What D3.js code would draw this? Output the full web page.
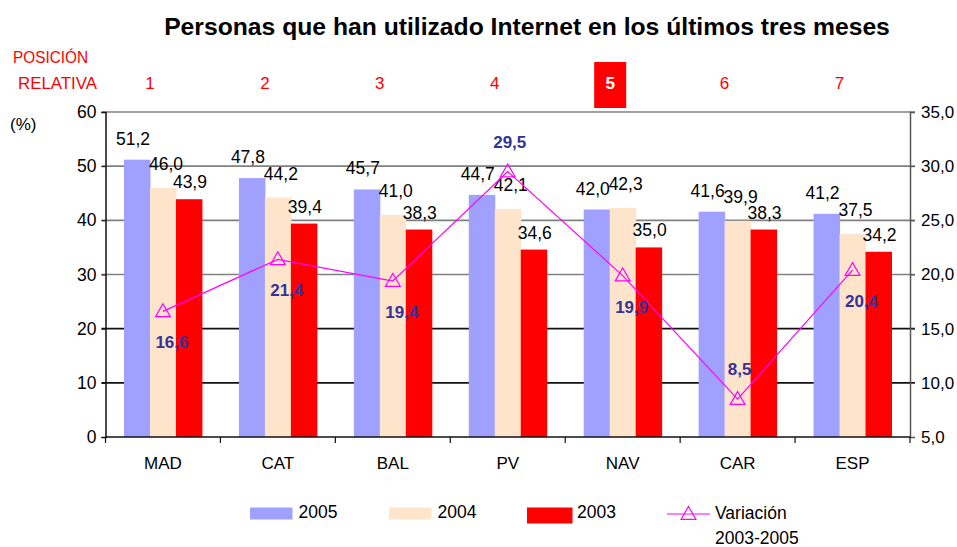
<!DOCTYPE html>
<html><head><meta charset="utf-8">
<script src="https://cdn.jsdelivr.net/npm/d3@7"></script>
<style>body{margin:0;background:#fff} svg{display:block} text{font-family:"Liberation Sans",Arial,sans-serif}</style>
</head><body><svg id="c" width="957" height="547"></svg>
<script>
const categories=["MAD","CAT","BAL","PV","NAV","CAR","ESP"];
const ranks=[1,2,3,4,5,6,7];
const highlightRank=5;
const seriesNames=["2005","2004","2003"];
const v2005=[51.2,47.8,45.7,44.7,42.0,41.6,41.2];
const v2004=[46.0,44.2,41.0,42.1,42.3,39.9,37.5];
const v2003=[43.9,39.4,38.3,34.6,35.0,38.3,34.2];
const variation=[16.6,21.4,19.4,29.5,19.9,8.5,20.4];
const leftTicks=[0,10,20,30,40,50,60];
const rightTicks=[5,10,15,20,25,30,35];
const titleText="Personas que han utilizado Internet en los últimos tres meses";
const lineName=["Variación","2003-2005"];

const colors={"2005":"#A0A0FF","2004":"#FFE4CC","2003":"#FF0000"};
const labelGap={"2005":15,"2004":18,"2003":11};
const labelShift={"2005":-4,"2004":3,"2003":1};
const seriesVals={"2005":v2005,"2004":v2004,"2003":v2003};
const fmt=d=>d.toFixed(1).replace(".",",");

const svg=d3.select("#c");
const L=105.5,R=910,T=112,B=437;
const x=d3.scaleBand().domain(categories).range([L,R]).paddingInner(0.322).paddingOuter(0.161);
const xs=d3.scaleBand().domain(seriesNames).range([0,x.bandwidth()]);
const y=d3.scaleLinear().domain([0,60]).range([B,T]);
const y2=d3.scaleLinear().domain([5,35]).range([B,T]);
const cx=c=>x(c)+x.bandwidth()/2;
const step=x.step();

// title
const title=svg.append("text").attr("x",527).attr("y",35).attr("text-anchor","middle")
 .attr("font-weight","bold").attr("font-size",22).text(titleText);
const tw=title.node().getComputedTextLength();
title.attr("font-size",22*726/tw);

// posicion relativa
svg.append("text").attr("x",13).attr("y",63).attr("fill","#FF0000").attr("font-size",16.5)
 .attr("textLength",75).attr("lengthAdjust","spacingAndGlyphs").text("POSICIÓN");
svg.append("text").attr("x",18).attr("y",89).attr("fill","#FF0000").attr("font-size",16.5)
 .attr("textLength",79).attr("lengthAdjust","spacingAndGlyphs").text("RELATIVA");
const rk=svg.append("g");
categories.forEach((c,i)=>{
  const px=cx(c)-13;
  if(ranks[i]===highlightRank){
    rk.append("rect").attr("x",px-15.5).attr("y",62).attr("width",32).attr("height",46).attr("fill","#FF0000");
    rk.append("text").attr("x",px+0.5).attr("y",89).attr("text-anchor","middle").attr("fill","#fff")
      .attr("font-weight","bold").attr("font-size",17).text(ranks[i]);
  } else {
    rk.append("text").attr("x",px).attr("y",89).attr("text-anchor","middle").attr("fill","#FF0000")
      .attr("font-size",17).text(ranks[i]);
  }
});

// gridlines
svg.append("g").selectAll("line").data(leftTicks.filter(d=>d>0)).join("line")
 .attr("x1",L-4).attr("x2",R+5).attr("y1",d=>y(d)).attr("y2",d=>y(d))
 .attr("stroke",d=>d>=30?"#808080":"#111").attr("stroke-width",1.6);

// left axis
const ga=svg.append("g").attr("transform",`translate(${L},0)`)
 .call(d3.axisLeft(y).tickValues(leftTicks).tickSize(4).tickPadding(5).tickFormat(d=>d));
ga.select(".domain").attr("stroke","#111").attr("stroke-width",1.5);
ga.selectAll(".tick line").attr("stroke","#111");
ga.selectAll("text").attr("font-size",17.5).attr("fill","#000").attr("font-family","Liberation Sans, Arial");
svg.append("text").attr("x",10).attr("y",130).attr("font-size",17).text("(%)");

// right axis
const gr=svg.append("g").attr("transform",`translate(${R},0)`)
 .call(d3.axisRight(y2).tickValues(rightTicks).tickSize(5).tickPadding(6).tickFormat(fmt));
gr.select(".domain").attr("stroke","#555").attr("stroke-width",1.5);
gr.selectAll(".tick line").attr("stroke","#555");
gr.selectAll("text").attr("font-size",17).attr("fill","#000").attr("font-family","Liberation Sans, Arial");

// bars
const gb=svg.append("g");
seriesNames.forEach(s=>{
  gb.selectAll(null).data(categories).join("rect")
   .attr("x",c=>x(c)+xs(s)).attr("width",xs.bandwidth()+0.5)
   .attr("y",(c,i)=>y(seriesVals[s][i])).attr("height",(c,i)=>B-y(seriesVals[s][i]))
   .attr("fill",colors[s]);
});
// bottom axis
const gx=svg.append("g").attr("transform",`translate(0,${B})`);
gx.append("line").attr("x1",L).attr("x2",R).attr("stroke","#111").attr("stroke-width",1.5);
gx.selectAll(null).data(d3.range(categories.length+1)).join("line")
 .attr("x1",i=>L+i*step).attr("x2",i=>L+i*step).attr("y1",0).attr("y2",6).attr("stroke","#111").attr("stroke-width",1.2);
gx.selectAll(null).data(categories).join("text").attr("x",c=>cx(c)).attr("y",32)
 .attr("text-anchor","middle").attr("font-size",17).text(c=>c);

// bar labels
seriesNames.forEach(s=>{
  gb.selectAll(null).data(categories).join("text")
   .attr("x",c=>x(c)+xs(s)+xs.bandwidth()/2+labelShift[s]).attr("y",(c,i)=>y(seriesVals[s][i])-labelGap[s])
   .attr("text-anchor","middle").attr("font-size",17.5).text((c,i)=>fmt(seriesVals[s][i]));
});

// variation line
const pts=categories.map((c,i)=>[cx(c),y2(variation[i])]);
svg.append("path").attr("d",d3.line()(pts)).attr("fill","none").attr("stroke","#FF00FF").attr("stroke-width",1.2);
const tri=d3.symbol().type(d3.symbolTriangle).size(95);
svg.append("g").selectAll("path").data(pts).join("path")
 .attr("transform",p=>`translate(${p[0]},${p[1]+1})`).attr("d",tri)
 .attr("fill","none").attr("stroke","#FF00FF").attr("stroke-width",1.2);
const vmax=d3.max(variation),vmin=d3.min(variation);
svg.append("g").selectAll("text").data(variation).join("text")
 .attr("x",(v,i)=>pts[i][0]+((v===vmax||v===vmin)?2:9))
 .attr("y",(v,i)=>pts[i][1]+((v===vmax||v===vmin)?-24:37))
 .attr("text-anchor","middle").attr("font-weight","bold").attr("font-size",17).attr("fill","#333399")
 .text(fmt);

// legend
const lg=svg.append("g");
const legX={"2005":250,"2004":389,"2003":527};
seriesNames.forEach(s=>{
  const big=s==="2003";
  lg.append("rect").attr("x",legX[s]).attr("y",507.5).attr("width",big?45.5:42.5).attr("height",big?16:12).attr("fill",colors[s]);
  lg.append("text").attr("x",legX[s]+(big?50:48.5)).attr("y",518).attr("font-size",17.5).text(s);
});
lg.append("line").attr("x1",667).attr("x2",710).attr("y1",514).attr("y2",514).attr("stroke","#FF00FF").attr("stroke-width",1.2);
lg.append("path").attr("transform","translate(688.5,515)").attr("d",tri).attr("fill","none").attr("stroke","#FF00FF").attr("stroke-width",1.2);
lg.append("text").attr("x",715).attr("y",519).attr("font-size",17.5).text(lineName[0]);
lg.append("text").attr("x",715).attr("y",544).attr("font-size",17.5).text(lineName[1]);
</script></body></html>
